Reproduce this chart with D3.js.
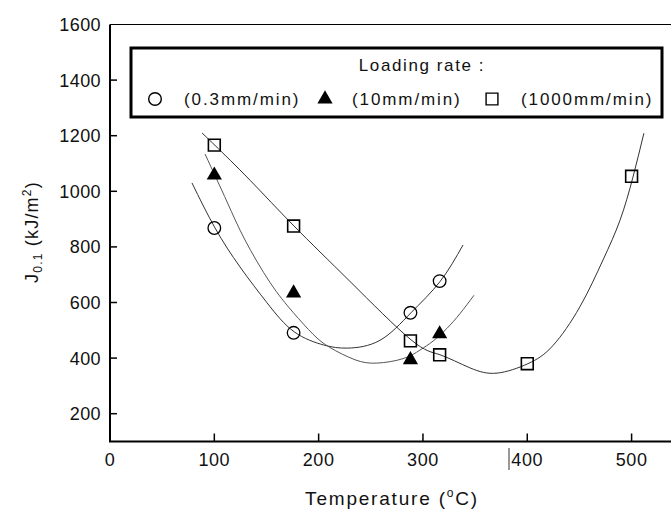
<!DOCTYPE html>
<html>
<head>
<meta charset="utf-8">
<script src="https://cdn.jsdelivr.net/npm/d3@7"></script>
<style>
  body { margin: 0; background: #fff; }
  svg { display: block; font-family: "Liberation Sans", Arial, sans-serif; }
</style>
</head>
<body>
<div id="chart"></div>
<script>
/* measured points */
const temps = [100, 176, 288, 316];
const slowJ = [868, 491, 563, 677];          // 0.3 mm/min
const midJ = [1058, 634, 394, 487];          // 10 mm/min
const fastTemps = [100, 176, 288, 316, 400, 500];
const fastJ = [1166, 875, 462, 412, 380, 1054]; // 1000 mm/min

/* fitted curves */
const slowCurveT = [78.6, 100.7, 124.6, 150.5, 176.4, 205, 228, 258.8, 288.5, 316.3, 338.4];
const slowCurveJ = [1030, 868, 728, 599, 495, 447, 436, 464, 563, 675, 807];
const midCurveT = [91.1, 112.2, 129.4, 153.4, 175.4, 194.6, 210.9, 234.9, 255.9, 280.9, 297.2, 309.6, 323, 335.5, 348.9];
const midCurveJ = [1134, 962, 825, 672, 565, 486, 438, 394, 382, 398, 429, 461, 507, 560, 626];
const fastCurveT = [88.2, 100.7, 134.2, 176.4, 230, 288.5, 316.3, 345, 371, 400.7, 424.6, 450.5, 472.6, 488.9, 501.3, 511.8];
const fastCurveJ = [1210, 1165, 1040, 875, 676, 466, 412, 365, 346, 380, 445, 585, 753, 896, 1051, 1209];

const xTicks = [0, 100, 200, 300, 400, 500];
const yTicks = [200, 400, 600, 800, 1000, 1200, 1400, 1600];
const legendLabels = ["(0.3mm/min)", "(10mm/min)", "(1000mm/min)"];

const W = 671, H = 514;
const svg = d3.select("#chart").append("svg").attr("width", W).attr("height", H);

const x = d3.scaleLinear().domain([0, 500]).range([110, 631.6]);
const y = d3.scaleLinear().domain([100, 1600]).range([441.5, 24.5]);

/* frame */
svg.append("line").attr("x1", x(0)).attr("x2", W).attr("y1", y(1600)).attr("y2", y(1600))
    .attr("stroke", "#000").attr("stroke-width", 1.2);
svg.append("line").attr("x1", x(0)).attr("x2", x(0)).attr("y1", y(1600)).attr("y2", y(100))
    .attr("stroke", "#000").attr("stroke-width", 2);
svg.append("line").attr("x1", x(0) - 1).attr("x2", W).attr("y1", y(100)).attr("y2", y(100))
    .attr("stroke", "#000").attr("stroke-width", 2);

/* y ticks */
const yAx = svg.append("g");
yAx.selectAll("line").data(yTicks.filter(d => d < 1600)).join("line")
    .attr("x1", x(0)).attr("x2", x(0) + 7)
    .attr("y1", d => y(d)).attr("y2", d => y(d))
    .attr("stroke", "#000").attr("stroke-width", 1.5);
yAx.selectAll("text").data(yTicks).join("text")
    .attr("x", x(0) - 9).attr("y", d => y(d) + 6.5)
    .attr("text-anchor", "end").attr("font-size", 18).attr("letter-spacing", 0.4)
    .attr("fill", "#111")
    .text(d => d);

/* x ticks */
const xAx = svg.append("g");
xAx.selectAll("line").data(xTicks.filter(d => d > 0)).join("line")
    .attr("x1", d => x(d)).attr("x2", d => x(d))
    .attr("y1", y(100)).attr("y2", y(100) - 8)
    .attr("stroke", "#000").attr("stroke-width", 1.5);
xAx.selectAll("text").data(xTicks).join("text")
    .attr("x", d => x(d)).attr("y", 466)
    .attr("text-anchor", "middle").attr("font-size", 18).attr("letter-spacing", 0.6)
    .attr("fill", "#111")
    .text(d => d);
// stray mark left of the 400 label in the original
svg.append("line").attr("x1", 509).attr("x2", 509).attr("y1", 448).attr("y2", 470)
    .attr("stroke", "#333").attr("stroke-width", 1);

/* axis titles */
const xt = svg.append("text").attr("x", 392).attr("y", 505)
    .attr("text-anchor", "middle").attr("font-size", 19).attr("letter-spacing", 1.8)
    .attr("fill", "#111");
xt.append("tspan").text("Temperature (");
xt.append("tspan").attr("font-size", 12).attr("dy", -8).text("o");
xt.append("tspan").attr("dy", 8).text("C)");

const yt = svg.append("text").attr("transform", "translate(38,232) rotate(-90)")
    .attr("text-anchor", "middle").attr("font-size", 18).attr("letter-spacing", 1.2)
    .attr("fill", "#111");
yt.append("tspan").text("J");
yt.append("tspan").attr("font-size", 12).attr("dy", 4).text("0.1");
yt.append("tspan").attr("dy", -4).text(" (kJ/m");
yt.append("tspan").attr("font-size", 12).attr("dy", -7).text("2");
yt.append("tspan").attr("dy", 7).text(")");

/* curves */
const line = d3.line().x(d => x(d[0])).y(d => y(d[1])).curve(d3.curveNatural);
const curves = [
    [slowCurveT, slowCurveJ, "#333"],
    [midCurveT, midCurveJ, "#555"],
    [fastCurveT, fastCurveJ, "#333"]
];
svg.append("g").selectAll("path").data(curves).join("path")
    .attr("d", c => line(d3.zip(c[0], c[1])))
    .attr("fill", "none").attr("stroke", c => c[2]).attr("stroke-width", 1);

/* markers */
const circleSym = d3.symbol().type(d3.symbolCircle).size(125);
const triSym = d3.symbol().type(d3.symbolTriangle).size(100);
const sqSym = d3.symbol().type(d3.symbolSquare).size(140);

const pts = svg.append("g");
pts.selectAll(".c").data(d3.zip(temps, slowJ)).join("path").attr("class", "c")
    .attr("d", circleSym)
    .attr("transform", d => `translate(${x(d[0])},${y(d[1])})`)
    .attr("fill", "none").attr("stroke", "#000").attr("stroke-width", 1.3);
pts.selectAll(".t").data(d3.zip(temps, midJ)).join("path").attr("class", "t")
    .attr("d", triSym)
    .attr("transform", d => `translate(${x(d[0])},${y(d[1])})`)
    .attr("fill", "#000");
pts.selectAll(".s").data(d3.zip(fastTemps, fastJ)).join("path").attr("class", "s")
    .attr("d", sqSym)
    .attr("transform", d => `translate(${x(d[0])},${y(d[1])})`)
    .attr("fill", "none").attr("stroke", "#000").attr("stroke-width", 1.6);

/* legend */
const lg = svg.append("g");
lg.append("rect").attr("x", 131).attr("y", 48).attr("width", 531).attr("height", 69)
    .attr("fill", "#fff").attr("stroke", "#000").attr("stroke-width", 3);
lg.append("text").attr("x", 422).attr("y", 71).attr("text-anchor", "middle")
    .attr("font-size", 17).attr("letter-spacing", 1.6).attr("fill", "#111")
    .text("Loading rate :");
const legendSyms = [
    [circleSym, 155, "none", "#000"],
    [triSym, 325, "#000", "none"],
    [sqSym, 492, "none", "#000"]
];
const legendTextX = [184, 352, 521];
lg.selectAll(".ls").data(legendSyms).join("path").attr("class", "ls")
    .attr("d", d => d[0]())
    .attr("transform", d => `translate(${d[1]},99)`)
    .attr("fill", d => d[2]).attr("stroke", d => d[3]).attr("stroke-width", 1.4);
lg.selectAll(".lt").data(legendLabels).join("text").attr("class", "lt")
    .attr("x", (d, i) => legendTextX[i]).attr("y", 105)
    .attr("font-size", 17).attr("letter-spacing", 1.9).attr("fill", "#111")
    .text(d => d);
</script>
</body>
</html>
